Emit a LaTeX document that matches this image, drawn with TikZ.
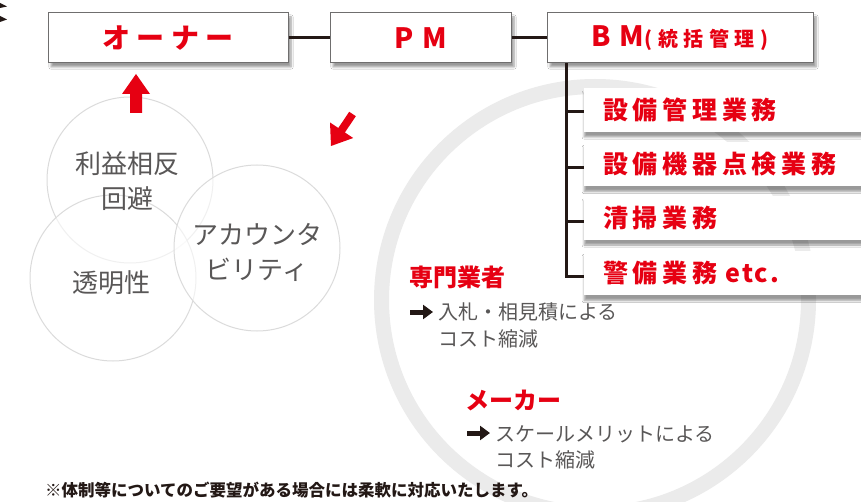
\documentclass[tikz,border=0pt]{standalone}
\usepackage{fontspec}
\setmainfont{Noto Sans CJK JP}
\usetikzlibrary{shadows.blur,arrows.meta}
\definecolor{jred}{HTML}{E60012}
\definecolor{jgray}{HTML}{595757}
\definecolor{jdark}{HTML}{231815}
\definecolor{ringgray}{HTML}{EBEBEB}
\definecolor{boxborder}{HTML}{6F6E6E}
\pgfdeclareradialshading{bubble}{\pgfpoint{0bp}{0bp}}{color(0bp)=(white); color(34bp)=(white); color(50bp)=(black!11); color(100bp)=(black!11)}
\tikzset{
  topbox/.style={draw=boxborder, line width=1pt, fill=white, minimum height=50pt, inner sep=0pt,
    blur shadow={shadow xshift=3pt, shadow yshift=-4pt, shadow blur steps=6, shadow opacity=40},
    text=jred, font=\fontsize{28}{28}\selectfont\bfseries},
  taskbox/.style={fill=white, anchor=west, minimum height=44pt, inner xsep=19pt, inner ysep=0pt,
    text width=272pt, align=left,
    blur shadow={shadow xshift=0pt, shadow yshift=-5pt, shadow blur steps=6, shadow opacity=40},
    text=jred, font=\fontsize{25}{25}\selectfont\bfseries\addfontfeature{LetterSpace=19}},
  conn/.style={draw=jdark, line width=3pt},
  bubblecirc/.style={circle, minimum size=166pt, inner sep=0pt, draw=black!14, line width=1pt,
    shading=bubble, fill opacity=0.6, draw opacity=1},
  bubbletext/.style={inner sep=0pt, text=jgray, font=\fontsize{26}{35}\selectfont, align=center},
  redhead/.style={anchor=base west, inner sep=0pt, text=jred, font=\fontsize{24}{24}\selectfont\bfseries},
  subtext/.style={anchor=base west, inner sep=0pt, text=jgray, align=left, font=\fontsize{20}{26.5}\selectfont},
  blackarrow/.style={draw=jdark, line width=5pt, -{Triangle[length=10pt,width=14pt]}},
  redarrow/.style={fill=jred, draw=none}
}
\begin{document}
\begin{tikzpicture}[x=1pt,y=-1pt]
\useasboundingbox (0,0) rectangle (861,502);
\fill[white] (0,0) rectangle (861,502);

% big background ring
\draw[ringgray, line width=15pt] (595,300) circle[radius=213.5];

% tiny marks at the top left
\fill[jdark] (0,3) -- (7,6.5) -- (0,8) -- cycle;
\fill[jdark] (0,16) -- (7,19.5) -- (0,22) -- cycle;

% left bubbles
\node[bubblecirc] (c1) at (130,180) {};
\node[bubblecirc] (c2) at (113,278) {};
\node[bubblecirc] (c3) at (257,248) {};
\node[bubbletext] (c1t) at (127,181) {利益相反\\回避};
\node[bubbletext] (c2t) at (111,283) {透明性};
\node[bubbletext] (c3t) at (257,252) {アカウンタ\\ビリティ};

% top row
\node[topbox, minimum width=240pt] (owner) at (168,38) {\addfontfeature{LetterSpace=22}オーナー};
\node[topbox, minimum width=181pt] (pm) at (420.5,38) {\addfontfeature{LetterSpace=32}PM};
\node[topbox, minimum width=266pt] (bm) at (680,38) {\addfontfeature{LetterSpace=32}BM{\fontsize{20}{20}\selectfont\addfontfeature{LetterSpace=28}(統括管理)}};
\draw[conn] (owner.east) -- (pm.west);
\draw[conn] (pm.east) -- (bm.west);

% task boxes
\node[taskbox] (t1) at (584,110) {設備管理業務};
\node[taskbox] (t2) at (584,164.5) {設備機器点検業務};
\node[taskbox] (t3) at (584,218) {清掃業務};
\node[taskbox] (t4) at (584,273.5) {警備業務 {\addfontfeature{LetterSpace=8}etc.}};

\coordinate (vtop) at ([xshift=20pt]bm.south west);
\coordinate (k1) at ([yshift=-2pt]t1.west);
\coordinate (k2) at ([yshift=-3.5pt]t2.west);
\coordinate (k3) at ([yshift=-3.5pt]t3.west);
\coordinate (k4) at ([yshift=-3pt]t4.west);
\draw[conn] (vtop) |- (k4);
\draw[conn] (vtop |- k1) -- (k1);
\draw[conn] (vtop |- k2) -- (k2);
\draw[conn] (vtop |- k3) -- (k3);

% red block arrows
\fill[redarrow] (130,113) -- (142,113) -- (142,94) -- (150,94) -- (136,74) -- (122,94) -- (130,94) -- cycle;
\fill[redarrow] (349.2,111.8) -- (355.8,116.2) -- (344.9,132.5) -- (353.2,138.0) -- (331,146) -- (330.0,122.5) -- (338.3,128.0) -- cycle;

% specialist / maker
\node[redhead] (sp) at (409,287) {専門業者};
\node[subtext] (spt) at (438,346) {入札・相見積による\\コスト縮減};
\coordinate (a1s) at (410,312);
\coordinate (a1e) at (433,312);
\draw[blackarrow] (a1s) -- (a1e);

\node[redhead] (mk) at (465,409) {メーカー};
\node[subtext] (mkt) at (495,467.5) {スケールメリットによる\\コスト縮減};
\coordinate (a2s) at (467,433);
\coordinate (a2e) at (490,433);
\draw[blackarrow] (a2s) -- (a2e);

% footer
\node[anchor=base west, inner sep=0pt, text=jdark, font=\fontsize{16.5}{16.5}\selectfont\bfseries] (foot) at (45,496.3) {※体制等についてのご要望がある場合には柔軟に対応いたします。};
\end{tikzpicture}
\end{document}
